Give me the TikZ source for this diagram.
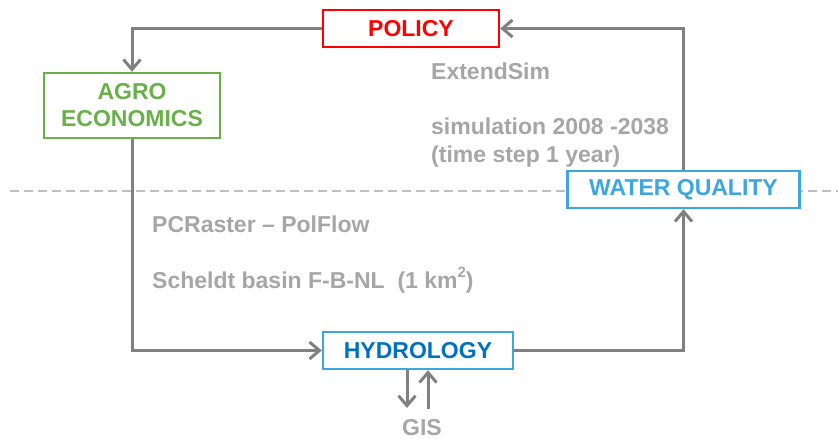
\documentclass[tikz,border=0pt]{standalone}
\usepackage{fontspec}
\setmainfont{Liberation Sans}
\usetikzlibrary{arrows.meta}
\definecolor{linegray}{HTML}{808080}
\definecolor{labelgray}{HTML}{A6A6A6}
\definecolor{dashgray}{HTML}{BFBFBF}
\definecolor{policyred}{HTML}{FF0000}
\definecolor{agrogreen}{HTML}{6AB04A}
\definecolor{wqblue}{HTML}{3CA6DE}
\definecolor{hydroblue}{HTML}{0070C0}
\newcommand{\smallsup}[1]{\raisebox{0.45em}{\fontsize{15}{15}\selectfont #1}}
\begin{document}
\begin{tikzpicture}[x=1pt,y=-1pt,
  every node/.style={font=\fontsize{23}{28}\selectfont\bfseries},
  modelbox/.style={draw, line width=2.4pt, fill=white, inner sep=0pt, align=center},
  flow/.style={draw=linegray, line width=3pt, -{Straight Barb[length=10pt,width=17pt]}},
  note/.style={text=labelgray, anchor=base west, inner sep=0pt},
]
\useasboundingbox (0,0) rectangle (838,439);

% divider between the two model domains
\draw[dashgray, line width=2pt, dash pattern=on 9pt off 5pt] (10,191) -- (838,191);

% model components
\node[modelbox, draw=policyred, text=policyred, minimum width=176pt, minimum height=37pt] (policy) at (411,28.5) {POLICY};
\node[modelbox, draw=agrogreen, text=agrogreen, minimum width=176pt, minimum height=65pt] (agro) at (132,105.5) {AGRO\\[-1pt]ECONOMICS};
\node[modelbox, draw=wqblue, text=wqblue, minimum width=232pt, minimum height=37pt] (wq) at (683.5,189.5) {WATER QUALITY};
\node[modelbox, draw=wqblue, text=hydroblue, minimum width=190pt, minimum height=37pt] (hydro) at (418,350.5) {HYDROLOGY};
\node[text=labelgray, inner sep=0pt] (gis) at (422,427.5) {GIS};

% annotations
\node[note] (extend) at (431,79) {ExtendSim};
\node[note] (sim) at (431,134) {simulation 2008 -2038};
\node[note] (step) at (431,162) {(time step 1 year)};
\node[note] (pcr) at (152,232) {PCRaster -- PolFlow};
\node[note] (scheldt) at (152,288) {Scheldt basin F-B-NL\ \ (1 km\smallsup{2})};

% feedback loop
\draw[flow] (policy.west) -| (agro.north);
\draw[flow] (agro.south) |- (hydro.west);
\draw[flow] (hydro.east) -| (wq.south);
\draw[flow] (wq.north) |- (policy.east);

% exchange with GIS
\coordinate (gisdown) at (407,408);
\coordinate (gisup) at (428,409);
\draw[flow] (hydro.south -| gisdown) -- (gisdown);
\draw[flow] (gisup) -- (hydro.south -| gisup);
\end{tikzpicture}
\end{document}
